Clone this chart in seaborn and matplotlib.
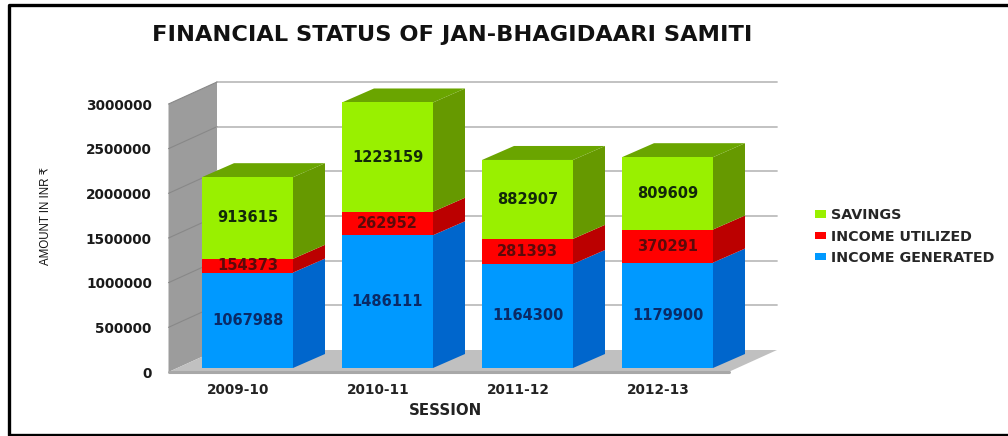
import matplotlib
matplotlib.use('Agg')
import matplotlib.pyplot as plt
from matplotlib.lines import Line2D
import seaborn as sns

sessions = ['2009-10', '2010-11', '2011-12', '2012-13']
income_generated = [1067988, 1486111, 1164300, 1179900]
income_utilized = [154373, 262952, 281393, 370291]
savings = [913615, 1223159, 882907, 809609]
y_ticks = [0, 500000, 1000000, 1500000, 2000000, 2500000, 3000000]

sns.set_theme(style='white')
plt.rcParams['font.family'] = ['DejaVu Sans']

fig = plt.figure(figsize=(10.08, 4.36), dpi=100)
ax = fig.add_axes([168.5 / 1008, 64 / 436, 560 / 1008, 268 / 436])

# depth of the fake 3d box, in data units (140px per category, 268px per 3M)
PX_X = 1 / 140
PX_Y = 3000000 / 268
WALL_DX, WALL_DY = 48.5 * PX_X, 22 * PX_Y
BAR_DX0, BAR_DY0 = 9 * PX_X, 4 * PX_Y
BAR_DX, BAR_DY = 32 * PX_X, 14 * PX_Y
BAR_W = 0.65
X0, X1 = -0.5, 3.5

ax.set_xlim(X0, X1)
ax.set_ylim(0, 3000000)

# side wall and floor
top = y_ticks[-1]
ax.fill([X0, X0 + WALL_DX, X0 + WALL_DX, X0], [0, WALL_DY, top + WALL_DY, top],
        color='#9c9c9c', lw=0, clip_on=False, zorder=1)
ax.fill([X0, X0 + WALL_DX, X1 + WALL_DX, X1], [0, WALL_DY, WALL_DY, 0],
        color='#c0c0c0', lw=0, clip_on=False, zorder=1)
ax.plot([X0, X1], [0, 0], color='#a8a8a8', lw=2.2, clip_on=False, zorder=1.5)

for t in y_ticks[1:]:
    ax.plot([X0 + WALL_DX, X1 + WALL_DX], [t + WALL_DY, t + WALL_DY],
            color='#bdbdbd', lw=1.3, clip_on=False, zorder=1.2)
    ax.plot([X0, X0 + WALL_DX], [t, t + WALL_DY],
            color='#888888', lw=0.8, clip_on=False, zorder=1.2)

series = [
    ('INCOME GENERATED', income_generated, '#0099ff', '#0066cc', '#0a2a66'),
    ('INCOME UTILIZED', income_utilized, '#ff0000', '#bb0000', '#5c0a0a'),
    ('SAVINGS', savings, '#99f000', '#669900', '#12280a'),
]

bottoms = [0, 0, 0, 0]
for name, vals, front, side, txt in series:
    n_before = len(ax.patches)
    sns.barplot(x=sessions, y=vals, bottom=bottoms, color=front, saturation=1,
                width=BAR_W, ax=ax, label=name, zorder=3, clip_on=False, linewidth=0)
    for i, patch in enumerate(ax.patches[n_before:]):
        # push the front face back to where the bar stands on the floor
        patch.set_x(patch.get_x() + BAR_DX0)
        patch.set_y(patch.get_y() + BAR_DY0)
        right = i + BAR_W / 2 + BAR_DX0
        y0 = bottoms[i] + BAR_DY0
        y1 = y0 + vals[i]
        ax.fill([right, right + BAR_DX, right + BAR_DX, right],
                [y0, y0 + BAR_DY, y1 + BAR_DY, y1],
                color=side, lw=0, clip_on=False, zorder=2.5)
        ax.text(i + BAR_DX0, y0 + vals[i] / 2, str(vals[i]), ha='center', va='center',
                fontsize=10.5, fontweight='bold', color=txt, zorder=4)
    bottoms = [b + v for b, v in zip(bottoms, vals)]

# bar tops
for i, h in enumerate(bottoms):
    left = i - BAR_W / 2 + BAR_DX0
    right = i + BAR_W / 2 + BAR_DX0
    y1 = h + BAR_DY0
    ax.fill([left, right, right + BAR_DX, left + BAR_DX],
            [y1, y1, y1 + BAR_DY, y1 + BAR_DY],
            color='#6aa500', lw=0, clip_on=False, zorder=2.6)

sns.despine(ax=ax, left=True, bottom=True)
ax.set_yticks(y_ticks)
ax.set_yticklabels([str(t) for t in y_ticks], fontsize=9.8, fontweight='bold', color='#1a1a1a')
ax.set_xticks(range(4))
ax.set_xticklabels(sessions, fontsize=9.8, fontweight='bold', color='#222222')
ax.tick_params(axis='y', length=0, pad=12)
ax.tick_params(axis='x', length=0, pad=8)

fig.text(445 / 1008, 1 - 410 / 436, 'SESSION', ha='center', va='center',
         fontsize=10.8, fontweight='bold', color='#222222')
fig.text(46 / 1008, 1 - 216 / 436, 'AMOUNT IN INR ₹', rotation=90, ha='center', va='center',
         fontsize=8.3, color='#111111', family=['Liberation Sans', 'DejaVu Sans'])
fig.text(452 / 1008, 1 - 35 / 436, 'FINANCIAL STATUS OF JAN-BHAGIDAARI SAMITI', ha='center', va='center',
         fontsize=16.2, fontweight='bold', color='#111111')

handles, labels = ax.get_legend_handles_labels()
ax.legend(handles[::-1], labels[::-1], loc='center left', bbox_to_anchor=(815 / 1008, 1 - 236.5 / 436),
          bbox_transform=fig.transFigure, frameon=False, handlelength=0.8, handleheight=0.45,
          handletextpad=0.35, labelspacing=0.5, borderpad=0, borderaxespad=0,
          prop={'size': 10.3, 'weight': 'bold'})

# page border only on left, top and bottom
border_x = [1, 8.5 / 1008, 8.5 / 1008, 1]
border_y = [1 - 5 / 436, 1 - 5 / 436, 1 - 435 / 436, 1 - 435 / 436]
fig.add_artist(Line2D(border_x, border_y, transform=fig.transFigure, color='black', lw=2.4))

fig.savefig('out.png', dpi=100)
